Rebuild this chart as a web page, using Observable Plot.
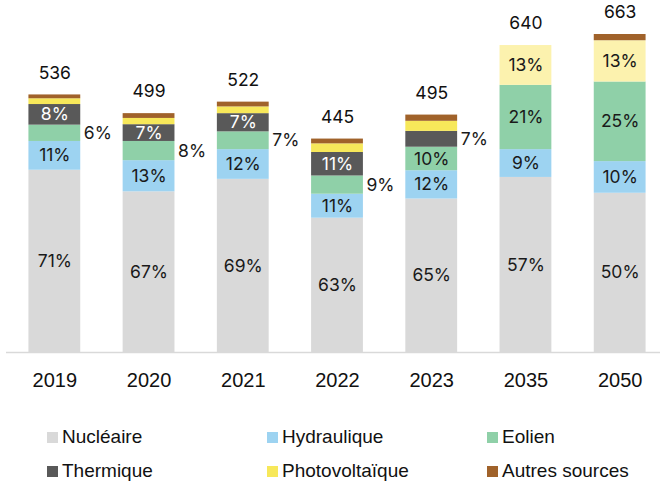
<!DOCTYPE html>
<html>
<head>
<meta charset="utf-8">
<script src="https://cdn.jsdelivr.net/npm/d3@7"></script>
<script src="https://cdn.jsdelivr.net/npm/@observablehq/plot@0.6"></script>
<style>
  html, body { margin: 0; padding: 0; background: #fff; }
  #wrap { position: relative; width: 662px; height: 481px; }
  #legend { position: absolute; left: 0; top: 400px; width: 662px; height: 81px;
            font-family: "Liberation Sans", Arial, sans-serif; font-size: 19px; color: #111; }
  .item { position: absolute; display: flex; align-items: center; white-space: nowrap; }
  .sw { width: 11px; height: 11px; margin-right: 4px; }
</style>
</head>
<body>
<div id="wrap"><div id="chart"></div><div id="legend"></div></div>
<script>
const years = ["2019", "2020", "2021", "2022", "2023", "2035", "2050"];
const totals = [536, 499, 522, 445, 495, 640, 663];
const sources = ["Nucléaire", "Hydraulique", "Eolien", "Thermique", "Photovoltaïque", "Autres sources"];
const colors = ["#d9d9d9", "#9dd3f1", "#8fd0a8", "#595959", "#f7e85a", "#a0622a"];
const projectionSolarColor = "#fcf2ae";
const projectionYears = ["2035", "2050"];

const nucleaire      = [380, 335, 361, 280, 320, 365, 332];
const hydraulique    = [60, 65, 62, 50, 59, 58, 66];
const eolien         = [34, 40, 37, 38, 49, 134, 166];
const thermique      = [43, 35, 38, 49, 33, 0, 0];
const photovoltaique = [12, 13, 14, 18, 21, 83, 86];
const autres         = [8, 10, 10, 10, 13, 0, 13];

const nucleaireLbl      = ["71%", "67%", "69%", "63%", "65%", "57%", "50%"];
const hydrauliqueLbl    = ["11%", "13%", "12%", "11%", "12%", "9%", "10%"];
const eolienLbl         = ["6%", "8%", "7%", "9%", "10%", "21%", "25%"];
const thermiqueLbl      = ["8%", "7%", "7%", "11%", "7%", "", ""];
const photovoltaiqueLbl = ["", "", "", "", "", "13%", "13%"];
const autresLbl         = ["", "", "", "", "", "", ""];
// which series label sits to the right of the bar
const outsideLabel = ["Eolien", "Eolien", "Eolien", "Eolien", "Thermique", null, null];

const series = [nucleaire, hydraulique, eolien, thermique, photovoltaique, autres];
const labels = [nucleaireLbl, hydrauliqueLbl, eolienLbl, thermiqueLbl, photovoltaiqueLbl, autresLbl];

const rows = [];
years.forEach((y, i) => {
  sources.forEach((s, j) => {
    const proj = projectionYears.includes(y) && s === "Photovoltaïque";
    rows.push({
      year: y, source: s, value: series[j][i], label: labels[j][i],
      outside: outsideLabel[i] === s,
      key: proj ? "PV projection" : s
    });
  });
});
const totalRows = years.map((y, i) => ({year: y, total: totals[i]}));

const chart = Plot.plot({
  width: 662,
  height: 400,
  marginTop: 34,
  marginBottom: 48,
  marginLeft: 19,
  marginRight: 7,
  style: {fontFamily: "Inter, sans-serif", fontSize: "17.5px", background: "#fff"},
  x: {domain: years, paddingInner: 0.45, paddingOuter: 0.1, round: false, label: null},
  y: {domain: [0, d3.max(totals)], axis: null},
  color: {domain: [...sources, "PV projection"], range: [...colors, projectionSolarColor]},
  marks: [
    Plot.barY(rows, Plot.stackY({x: "year", y: "value", fill: "key"})),
    Plot.ruleY([0], {stroke: "#d9d9d9", strokeWidth: 1.5, insetLeft: -13, insetRight: -5}),
    Plot.text(rows, Plot.stackY({x: "year", y: "value",
      text: d => (!d.outside && d.source !== "Thermique") ? d.label : "",
      fill: "#1a1a1a"})),
    Plot.text(rows, Plot.stackY({x: "year", y: "value",
      text: d => (!d.outside && d.source === "Thermique") ? d.label : "",
      fill: "#ffffff"})),
    Plot.text(rows, Plot.stackY({x: "year", y: "value",
      text: d => d.outside ? d.label : "",
      fill: "#1a1a1a", textAnchor: "start", dx: 29})),
    Plot.text(totalRows, {x: "year", y: "total", text: d => String(d.total), dy: -22, fill: "#111"}),
    Plot.axisX({tickSize: 0, tickPadding: 20, fontSize: 20, fontFamily: "'Liberation Sans', Arial, sans-serif", fill: "#111", label: null})
  ]
});
document.getElementById("chart").appendChild(chart);

// legend
const legendPos = [[47, 37], [267, 37], [487, 37], [47, 71], [267, 71], [487, 71]];
const legend = document.getElementById("legend");
sources.forEach((s, i) => {
  const it = document.createElement("div");
  it.className = "item";
  it.style.left = legendPos[i][0] + "px";
  it.style.top = (legendPos[i][1] - 11) + "px";
  it.style.height = "22px";
  it.innerHTML = `<span class="sw" style="background:${colors[i]}"></span><span>${s}</span>`;
  legend.appendChild(it);
});
</script>
</body>
</html>
